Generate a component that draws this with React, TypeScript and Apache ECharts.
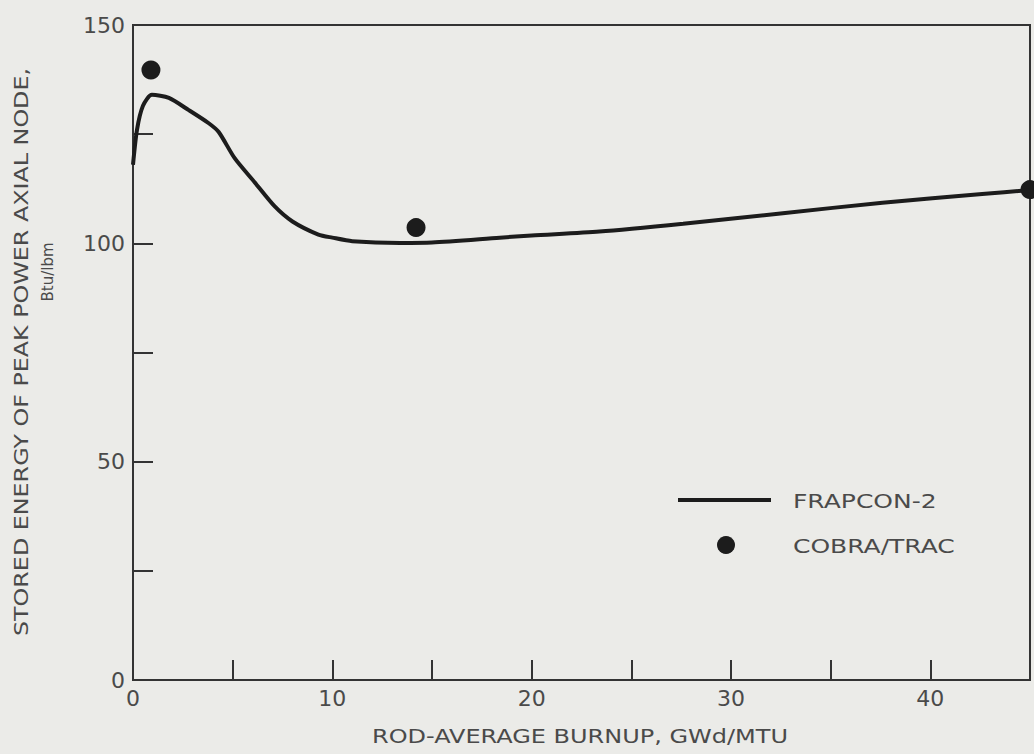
import React, { useEffect, useRef } from "react";
import * as echarts from "echarts";

const burnup: number[] = [0, 0.2, 0.5, 0.95, 1.8, 2.8, 3.8, 4.3, 5.1, 6.1, 7.1, 8.0, 9.3, 10, 11, 13.4, 15, 18.4, 20, 23.4, 27.6, 32.6, 37.6, 42.6, 45];
const frapcon: number[] = [118, 126, 131.5, 134, 133.3, 130.5, 127.5, 125.5, 119.5, 114, 108.5, 105, 102, 101.3, 100.5, 100.1, 100.2, 101.3, 101.8, 102.7, 104.5, 106.9, 109.3, 111.3, 112.2];
const cobraX: number[] = [0.9, 14.2, 45];
const cobraY: number[] = [139.7, 103.6, 112.3];
const xTitle = "ROD-AVERAGE BURNUP, GWd/MTU";
const yTitle1 = "STORED ENERGY OF PEAK POWER AXIAL NODE,";
const yTitle2 = "Btu/lbm";
const legendNames = ["FRAPCON-2", "COBRA/TRAC"];

const FONT = "DejaVu Sans";
const TEXT = "#4a4a4a";
const INK = "#1c1c1c";

export default function App() {
  const ref = useRef<HTMLDivElement>(null);
  useEffect(() => {
    if (!ref.current) return;
    const chart = echarts.init(ref.current, undefined, { renderer: "svg" });
    chart.setOption({
      animation: false,
      backgroundColor: "#ebebe8",
      grid: { left: 133, top: 25, right: 4, bottom: 74, show: true, borderColor: "#333", borderWidth: 2 },
      xAxis: {
        type: "value", min: 0, max: 45, interval: 5,
        axisLine: { lineStyle: { color: "#333", width: 2 } },
        axisTick: { inside: true, length: 20, lineStyle: { color: "#333", width: 2 } },
        splitLine: { show: false },
        axisLabel: { color: TEXT, fontFamily: FONT, fontSize: 22, margin: 7, formatter: (v: number) => (v % 10 === 0 && v < 45 ? String(v) : "") },
      },
      yAxis: {
        type: "value", min: 0, max: 150, interval: 25,
        axisLine: { lineStyle: { color: "#333", width: 2 } },
        axisTick: { inside: true, length: 20, lineStyle: { color: "#333", width: 2 } },
        splitLine: { show: false },
        axisLabel: { color: TEXT, fontFamily: FONT, fontSize: 22, margin: 8, formatter: (v: number) => (v % 50 === 0 ? String(v) : "") },
      },
      series: [
        {
          name: legendNames[0], type: "line", smooth: 0.25, showSymbol: false,
          lineStyle: { color: INK, width: 4 },
          data: burnup.map((x, i) => [x, frapcon[i]]),
        },
        {
          name: legendNames[1], type: "scatter", symbolSize: 19, clip: false,
          itemStyle: { color: INK, opacity: 1 },
          data: cobraX.map((x, i) => [x, cobraY[i]]),
        },
      ],
      graphic: [
        { type: "text", x: 580, y: 736, scaleX: 1.2, style: { text: xTitle, fill: TEXT, font: `20px ${FONT}`, align: "center", verticalAlign: "middle" } },
        { type: "text", x: 21, y: 352, rotation: Math.PI / 2, scaleX: 1.19, style: { text: yTitle1, fill: TEXT, font: `20px ${FONT}`, align: "center", verticalAlign: "middle" } },
        { type: "text", x: 48, y: 272, rotation: Math.PI / 2, style: { text: yTitle2, fill: TEXT, font: `15px ${FONT}`, align: "center", verticalAlign: "middle" } },
        { type: "line", shape: { x1: 678, y1: 500, x2: 771, y2: 500 }, style: { stroke: INK, lineWidth: 4 } },
        { type: "circle", shape: { cx: 726, cy: 545, r: 9 }, style: { fill: INK } },
        { type: "text", x: 793, y: 501, scaleX: 1.25, style: { text: legendNames[0], fill: TEXT, font: `20px ${FONT}`, verticalAlign: "middle" } },
        { type: "text", x: 793, y: 546, scaleX: 1.25, style: { text: legendNames[1], fill: TEXT, font: `20px ${FONT}`, verticalAlign: "middle" } },
      ],
    });
    return () => chart.dispose();
  }, []);
  return <div ref={ref} style={{ position: "fixed", left: 0, top: 0, width: 1034, height: 754 }} />;
}
